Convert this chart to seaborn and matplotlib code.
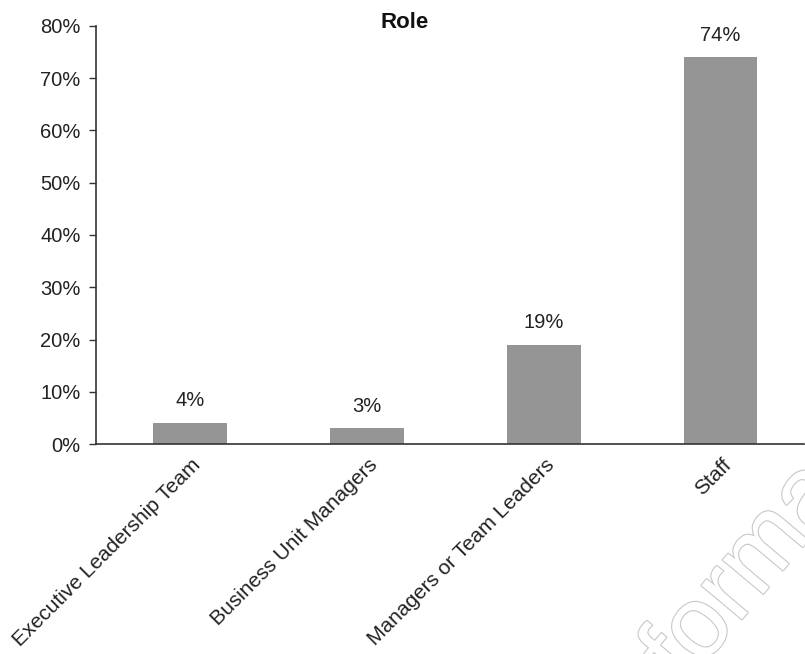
import matplotlib
matplotlib.use("Agg")
import matplotlib.pyplot as plt
import matplotlib.patheffects as pe
from matplotlib.ticker import PercentFormatter
from matplotlib.transforms import ScaledTranslation
import seaborn as sns
import pandas as pd

# Survey responses by role
roles = ["Executive Leadership Team", "Business Unit Managers",
         "Managers or Team Leaders", "Staff"]
shares = [0.04, 0.03, 0.19, 0.74]
share_labels = ["4%", "3%", "19%", "74%"]
y_ticks = [0.0, 0.1, 0.2, 0.3, 0.4, 0.5, 0.6, 0.7, 0.8]

sns.set_theme(style="white")
plt.rcParams["font.family"] = ["Liberation Sans", "DejaVu Sans"]
plt.rcParams["text.color"] = "#222222"

df = pd.DataFrame({"role": roles, "share": shares})

fig = plt.figure(figsize=(8.05, 6.54), dpi=100)
ax = fig.add_axes([96 / 805, 210 / 654, 1 - 96 / 805, 418 / 654])

sns.barplot(data=df, x="role", y="share", color="#959595", width=0.41,
            saturation=1, ax=ax, edgecolor="#8a8a8a", linewidth=0.6)

ax.set_ylim(0, 0.8)
ax.set_xlim(-0.53, 3.48)
ax.set_yticks(y_ticks)
ax.yaxis.set_major_formatter(PercentFormatter(1.0, decimals=0))
ax.tick_params(axis="y", which="major", left=True, length=5, width=1,
               color="#333333", labelsize=14.5, labelcolor="#222222", pad=6)
ax.tick_params(axis="x", bottom=False, labelsize=15, labelcolor="#222222", pad=0)
ax.set_xlabel("")
ax.set_ylabel("")

for side in ("top", "right"):
    ax.spines[side].set_visible(False)
for side in ("left", "bottom"):
    ax.spines[side].set_color("#333333")
    ax.spines[side].set_linewidth(1.2)

for lbl in ax.get_xticklabels():
    lbl.set_rotation(45)
    lbl.set_ha("right")
    lbl.set_va("center")
    lbl.set_rotation_mode("anchor")
    lbl.set_transform(lbl.get_transform() +
                      ScaledTranslation(6 / 72, -7 / 72, fig.dpi_scale_trans))

for i, (v, t) in enumerate(zip(shares, share_labels)):
    ax.annotate(t, xy=(i, v), xytext=(0, 12), textcoords="offset points",
                ha="center", va="baseline", fontsize=14.5, color="#222222")

ax.set_title("Role", fontsize=16, fontweight="bold", color="#111111",
             x=(405 - 96) / (805 - 96), pad=-1.5, y=1.0)

# Faint outlined watermark in the lower right corner
fig.text(628 / 805, -48 / 654, "format", fontsize=72, rotation=50,
         ha="left", va="bottom", color="white", family="Liberation Sans",
         path_effects=[pe.Stroke(linewidth=1.6, foreground="#c8c8c8"),
                       pe.Normal()], zorder=0)

fig.savefig("out.png", dpi=100)
